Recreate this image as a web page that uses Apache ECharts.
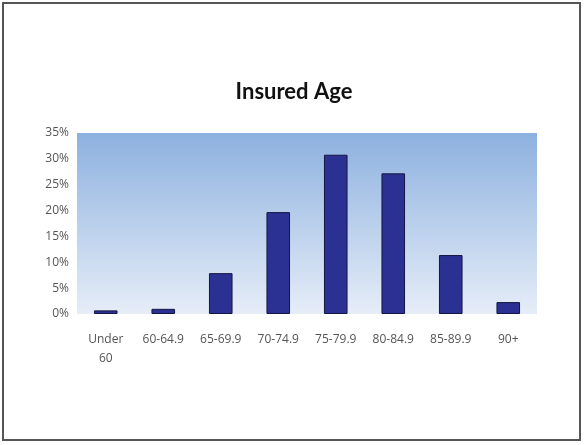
<!DOCTYPE html>
<html>
<head>
<meta charset="utf-8">
<script src="https://cdn.jsdelivr.net/npm/echarts@6/dist/echarts.min.js"></script>
<style>
html,body{margin:0;padding:0;background:#fff;}
#chart{width:588px;height:445px;}
</style>
</head>
<body>
<div id="chart"></div>
<script>
const categories = ["Under 60", "60-64.9", "65-69.9", "70-74.9", "75-79.9", "80-84.9", "85-89.9", "90+"];
const values = [0.7, 1.0, 7.9, 19.7, 30.8, 27.2, 11.4, 2.3];
const yTicks = [0, 5, 10, 15, 20, 25, 30, 35];
const titleText = "Insured Age";

const chart = echarts.init(document.getElementById('chart'), null, {renderer: 'canvas'});
chart.setOption({
  animation: false,
  backgroundColor: '#ffffff',
  title: {
    text: titleText,
    left: 'center',
    top: 76,
    textStyle: {fontFamily: 'Lato, "DejaVu Sans", sans-serif', fontWeight: 'bold', fontSize: 22, color: '#111'}
  },
  graphic: [{
    type: 'rect',
    shape: {x: 3, y: 3, width: 577, height: 437},
    style: {fill: 'none', stroke: '#555', lineWidth: 2},
    silent: true
  }],
  grid: {
    left: 77, right: 51, top: 133, bottom: 131,
    show: true,
    borderWidth: 0,
    backgroundColor: new echarts.graphic.LinearGradient(0, 0, 0, 1, [
      {offset: 0, color: '#8db1df'},
      {offset: 1, color: '#e6edf8'}
    ])
  },
  xAxis: {
    type: 'category',
    data: categories,
    axisLine: {show: false},
    axisTick: {show: false},
    axisLabel: {
      color: '#555', fontSize: 12, fontFamily: '"Open Sans", "DejaVu Sans", sans-serif',
      margin: 16, lineHeight: 19, interval: 0,
      formatter: v => v.replace(' ', '\n')
    }
  },
  yAxis: {
    type: 'value',
    min: yTicks[0], max: yTicks[yTicks.length - 1], interval: 5,
    splitLine: {show: false},
    axisLine: {show: false},
    axisTick: {show: false},
    axisLabel: {
      color: '#555', fontSize: 12, fontFamily: '"Open Sans", "DejaVu Sans", sans-serif',
      margin: 8, formatter: v => v + '%'
    }
  },
  series: [{
    type: 'bar',
    data: values,
    barWidth: '41%',
    itemStyle: {color: '#2b3192', borderColor: '#141640', borderWidth: 1}
  }]
});
</script>
</body>
</html>
